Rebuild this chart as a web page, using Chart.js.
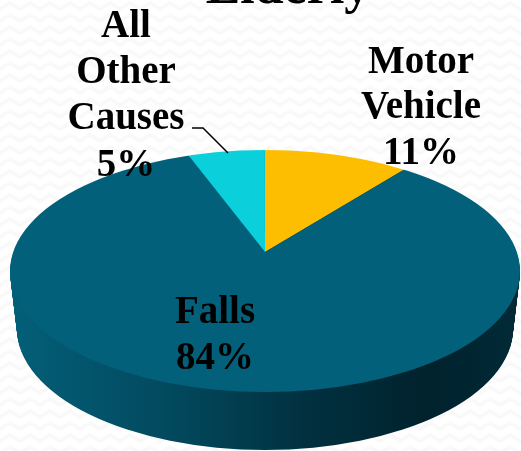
<!DOCTYPE html>
<html>
<head>
<meta charset="utf-8">
<style>
  html, body { margin: 0; padding: 0; background: #fff; }
  #wrap { width: 521px; height: 451px; }
</style>
<script src="https://cdn.jsdelivr.net/npm/chart.js@4"></script>
</head>
<body>
<div id="wrap"><canvas id="myChart" width="521" height="451"></canvas></div>
<script>
var categories = ['Motor Vehicle', 'Falls', 'All Other Causes'];
var values = [11, 84, 5];
var colors = ['#fdbd00', '#03607a', '#0bcfdb'];

// text blocks around the pie: lines, centre x, baseline y
var labels = [
  { lines: ['All', 'Other', 'Causes', '5%'], x: 126, y: [37, 83, 129, 176] },
  { lines: ['Motor', 'Vehicle', '11%'], x: 421, y: [73, 118, 164] },
  { lines: ['Falls', '84%'], x: 215, y: [323, 369] }
];
var titleTail = 'Elderly';

// apex of the slices and outline of the tilted top face
var apex = { x: 265, y: 252 };
var tilt = 0.444;
var skew = -0.158;
var startAngle = -9;
var top_ = { x: 265, y: 271, rx: 255, ry: 121 };
var depth = 58;
var bottomRx = 248;

function zigzag(ctx) {
  var c = document.createElement('canvas');
  c.width = 20;
  c.height = 12;
  var p = c.getContext('2d');
  p.fillStyle = '#fff';
  p.fillRect(0, 0, 20, 12);
  p.strokeStyle = '#f9f9f9';
  p.lineWidth = 4;
  p.beginPath();
  p.moveTo(-10, 3);
  p.lineTo(0, 9);
  p.lineTo(10, 3);
  p.lineTo(20, 9);
  p.lineTo(30, 3);
  p.stroke();
  return ctx.createPattern(c, 'repeat');
}

var pie3d = {
  id: 'pie3d',
  beforeDraw: function(chart) {
    var ctx = chart.ctx;
    ctx.save();
    ctx.fillStyle = zigzag(ctx);
    ctx.fillRect(0, 0, chart.width, chart.height);
    ctx.restore();
  },
  beforeDatasetDraw: function(chart, args) {
    var ctx = chart.ctx;
    var el = chart.getDatasetMeta(args.index).data[0];

    // side wall, stacked ellipses narrowing toward the bottom
    var g = ctx.createLinearGradient(10, 0, 520, 0);
    g.addColorStop(0, '#035f79');
    g.addColorStop(0.3, '#024a5f');
    g.addColorStop(0.6, '#012f3e');
    g.addColorStop(0.82, '#00222d');
    g.addColorStop(1, '#012a37');
    ctx.fillStyle = g;
    for (var d = depth; d > 0; d--) {
      var rx = top_.rx + (bottomRx - top_.rx) * d / depth;
      ctx.beginPath();
      ctx.ellipse(top_.x, top_.y + d, rx, top_.ry, 0, 0, Math.PI * 2);
      ctx.fill();
    }

    ctx.save();
    ctx.beginPath();
    ctx.ellipse(top_.x, top_.y, top_.rx, top_.ry, 0, 0, Math.PI * 2);
    ctx.clip();
    ctx.translate(apex.x, apex.y);
    ctx.transform(1, 0, skew, tilt, 0, 0);
    ctx.translate(-el.x, -el.y);
  },
  afterDatasetDraw: function(chart) {
    chart.ctx.restore();
  },
  afterDraw: function(chart) {
    var ctx = chart.ctx;
    ctx.save();
    ctx.fillStyle = '#000';
    ctx.textAlign = 'center';
    ctx.textBaseline = 'alphabetic';
    ctx.font = 'bold 39px "Liberation Serif"';
    labels.forEach(function(b) {
      b.lines.forEach(function(t, i) {
        ctx.fillText(t, b.x, b.y[i]);
      });
    });
    ctx.font = 'bold 52px "Liberation Serif"';
    ctx.fillText(titleTail, 288, 3);

    // leader line for All Other Causes
    ctx.strokeStyle = '#000';
    ctx.lineWidth = 1.5;
    ctx.beginPath();
    ctx.moveTo(192, 128);
    ctx.lineTo(203, 128);
    ctx.lineTo(228, 153);
    ctx.stroke();
    ctx.restore();
  }
};

new Chart(document.getElementById('myChart').getContext('2d'), {
  type: 'pie',
  data: {
    labels: categories,
    datasets: [{
      data: values,
      backgroundColor: colors,
      borderWidth: 0,
      radius: 360,
      rotation: startAngle,
      clip: false
    }]
  },
  options: {
    responsive: false,
    animation: false,
    plugins: {
      legend: { display: false },
      title: { display: false },
      tooltip: { enabled: false }
    }
  },
  plugins: [pie3d]
});
</script>
</body>
</html>
